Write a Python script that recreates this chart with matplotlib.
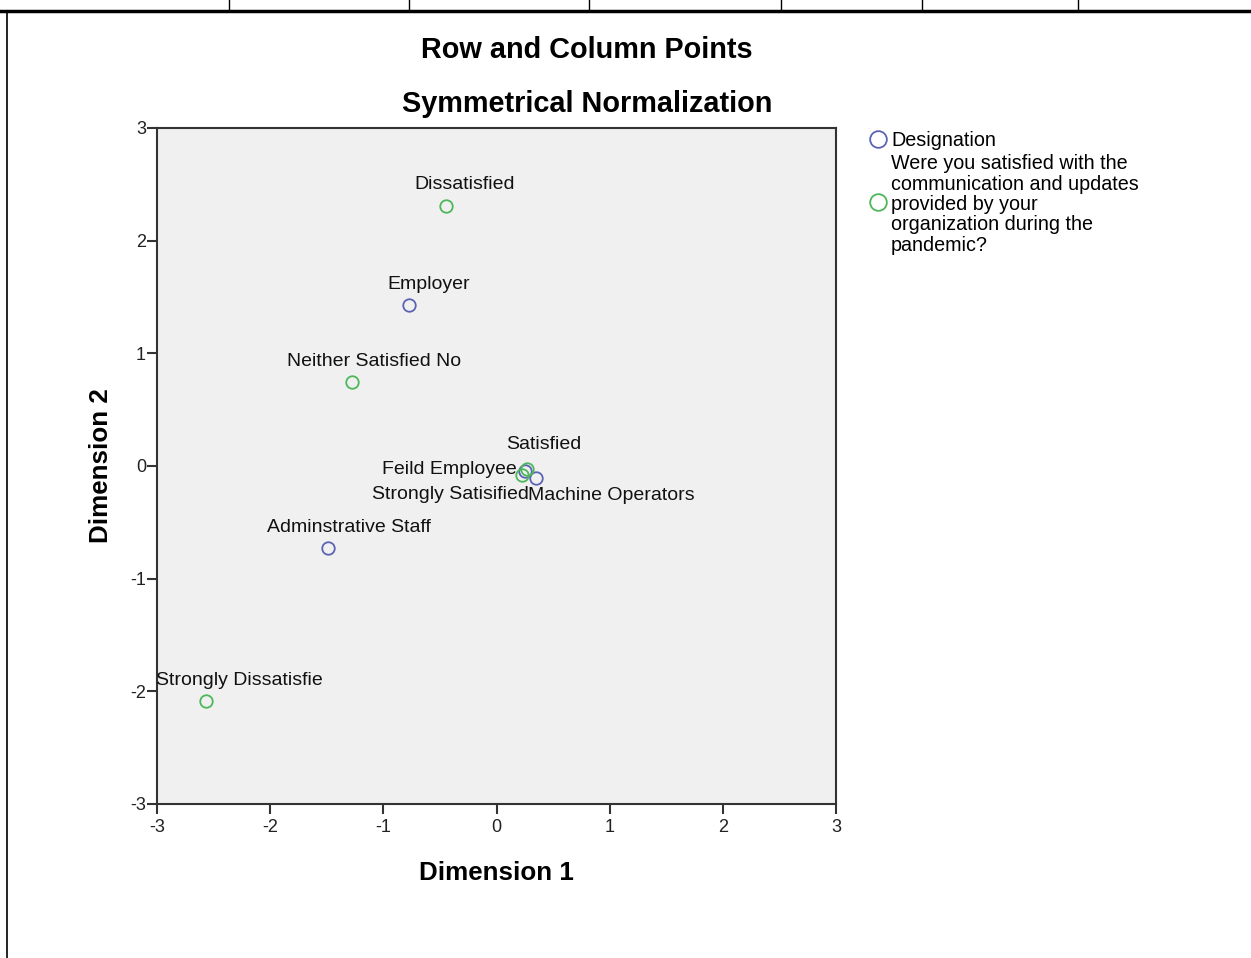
import matplotlib
matplotlib.use('Agg')
import matplotlib.pyplot as plt
from matplotlib.lines import Line2D

plt.rcParams['font.family'] = ['Liberation Sans', 'DejaVu Sans']

# row points (Designation)
row_names = ["Employer", "Feild Employee", "Machine Operators", "Adminstrative Staff"]
row_x = [-0.77, 0.25, 0.35, -1.49]
row_y = [1.43, -0.045, -0.105, -0.73]

# column points (satisfaction with communication)
col_names = ["Dissatisfied", "Neither Satisfied No", "Satisfied",
             "Strongly Satisified", "Strongly Dissatisfie"]
col_x = [-0.45, -1.28, 0.27, 0.225, -2.57]
col_y = [2.31, 0.745, -0.03, -0.08, -2.085]

ticks = [-3, -2, -1, 0, 1, 2, 3]

blue = "#5b64b3"
green = "#4db85a"

# label placement (offset in points, alignment)
place = {
    "Employer": ((14, 15), 'center'),
    "Feild Employee": ((-6, 1), 'right'),
    "Machine Operators": ((-6, -13), 'left'),
    "Adminstrative Staff": ((15, 15), 'center'),
    "Dissatisfied": ((14, 15), 'center'),
    "Neither Satisfied No": ((16, 15), 'center'),
    "Satisfied": ((12, 18), 'center'),
    "Strongly Satisified": ((5, -14), 'right'),
    "Strongly Dissatisfie": ((24, 15), 'center'),
}

fig = plt.figure(figsize=(12.51, 9.58), dpi=100)
ax = fig.add_axes([0.1255, 0.1608, 0.5428, 0.7056])
ax.set_facecolor('#f0f0f0')

ax.plot(row_x, row_y, 'o', mfc='none', mec=blue, ms=9, mew=1.3, zorder=3)
ax.plot(col_x, col_y, 'o', mfc='none', mec=green, ms=9, mew=1.3, zorder=3)

for names, xs, ys in [(row_names, row_x, row_y), (col_names, col_x, col_y)]:
    for n, x, y in zip(names, xs, ys):
        off, ha = place[n]
        ax.annotate(n, (x, y), xytext=off, textcoords='offset points',
                    ha=ha, va='center', fontsize=14, color='#111111')

ax.set_xlim(-3, 3)
ax.set_ylim(-3, 3)
ax.set_xticks(ticks)
ax.set_yticks(ticks)
ax.set_xticklabels([str(t) for t in ticks])
ax.set_yticklabels([str(t) for t in ticks])
ax.tick_params(direction='out', length=7, width=1.5, color='#333333',
               labelsize=13, labelcolor='#222222')
ax.tick_params(axis='x', pad=4)
ax.tick_params(axis='y', pad=1)
for s in ax.spines.values():
    s.set_color('#333333')
    s.set_linewidth(1.5)

ax.set_xlabel("Dimension 1", fontsize=18.7, fontweight='bold', labelpad=18)
ax.set_ylabel("Dimension 2", fontsize=18.7, fontweight='bold', labelpad=12)

fig.text(587 / 1251, 1 - 50 / 958, "Row and Column Points", ha='center',
         va='center', fontsize=20.8, fontweight='bold')
fig.text(587 / 1251, 1 - 104 / 958, "Symmetrical Normalization", ha='center',
         va='center', fontsize=20.8, fontweight='bold')

# legend
lx = 878 / 1251
fig.add_artist(Line2D([lx], [1 - 139 / 958], marker='o', mfc='none', mec=blue,
                      ms=12, mew=1.3, transform=fig.transFigure))
fig.add_artist(Line2D([lx], [1 - 202 / 958], marker='o', mfc='none', mec=green,
                      ms=12, mew=1.3, transform=fig.transFigure))
fig.text(891 / 1251, 1 - 141 / 958, "Designation", ha='left', va='center',
         fontsize=14.2)
fig.text(891 / 1251, 1 - 154 / 958,
         "Were you satisfied with the\ncommunication and updates\nprovided by your\n"
         "organization during the\npandemic?",
         ha='left', va='top', fontsize=14.2, linespacing=1.1)

# surrounding table border
fig.add_artist(Line2D([0, 1], [1 - 11 / 958, 1 - 11 / 958], color='black',
                      lw=2.5, transform=fig.transFigure))
fig.add_artist(Line2D([7 / 1251, 7 / 1251], [0, 1 - 11 / 958], color='black',
                      lw=1.2, transform=fig.transFigure))
for px in [229, 409, 589, 781, 922, 1078]:
    fig.add_artist(Line2D([px / 1251, px / 1251], [1 - 11 / 958, 1], color='black',
                          lw=1, transform=fig.transFigure))

fig.savefig('out.png', dpi=100)
